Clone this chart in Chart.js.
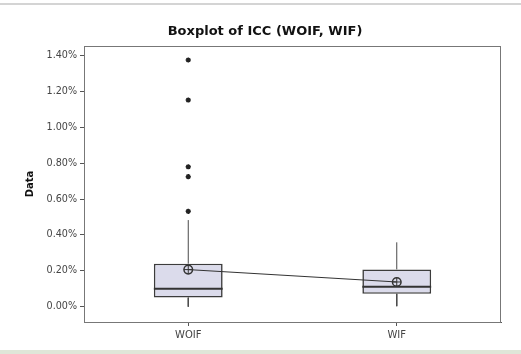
<!DOCTYPE html>
<html>
<head>
<meta charset="utf-8">
<script src="https://cdn.jsdelivr.net/npm/chart.js@4/dist/chart.umd.min.js"></script>
<style>
  html, body { margin: 0; padding: 0; background: #ffffff; }
  #wrap { width: 521px; height: 354px; position: relative; }
</style>
</head>
<body>
<div id="wrap"><canvas id="c" width="521" height="354"></canvas></div>
<script>
// Boxplot summary per group (values in percent)
const chartTitle   = 'Boxplot of ICC (WOIF, WIF)';
const categories   = ['WOIF', 'WIF'];
const whiskerLow   = [0.000, 0.003];
const q1           = [0.051, 0.072];
const medians      = [0.100, 0.111];
const q3           = [0.240, 0.208];
const whiskerHigh  = [0.483, 0.359];
const means        = [0.207, 0.138];
const outliersWOIF = [0.532, 0.725, 0.780, 1.152, 1.375];
const outliersWIF  = [];
const yTicks       = [0.0, 0.2, 0.4, 0.6, 0.8, 1.0, 1.2, 1.4];

const INK = '#333333';

// whisker segments: one line dataset per segment
const whiskerSets = [];
categories.forEach((cat, i) => {
  whiskerSets.push({
    type: 'line', order: 5,
    data: [{ x: cat, y: q3[i] }, { x: cat, y: whiskerHigh[i] }],
    borderColor: '#4a4a4a', borderWidth: 1, pointRadius: 0
  });
  whiskerSets.push({
    type: 'line', order: 5,
    data: [{ x: cat, y: q1[i] }, { x: cat, y: whiskerLow[i] }],
    borderColor: '#4a4a4a', borderWidth: 1, pointRadius: 0
  });
});

const outlierPoints = []
  .concat(outliersWOIF.map(v => ({ x: 'WOIF', y: v })))
  .concat(outliersWIF.map(v => ({ x: 'WIF', y: v })));

// page edges, title, median line across each box and frame around the plot area
const boxExtras = {
  id: 'boxExtras',
  beforeDraw(chart) {
    const { ctx, width, height } = chart;
    ctx.save();
    ctx.fillStyle = '#ffffff';
    ctx.fillRect(0, 0, width, height);
    ctx.strokeStyle = '#d4d4d4';
    ctx.lineWidth = 2;
    ctx.beginPath(); ctx.moveTo(0, 4); ctx.lineTo(width, 4); ctx.stroke();
    ctx.fillStyle = '#dfe6d8';
    ctx.fillRect(0, height - 4, width, 4);
    ctx.fillStyle = '#111111';
    ctx.font = 'bold 13px "DejaVu Sans"';
    ctx.textAlign = 'center';
    ctx.textBaseline = 'middle';
    ctx.fillText(chartTitle, 265, 32);
    ctx.restore();
  },
  afterDatasetsDraw(chart) {
    const { ctx, chartArea } = chart;
    const yScale = chart.scales.y;
    const meta = chart.getDatasetMeta(0);
    ctx.save();
    ctx.strokeStyle = INK;
    ctx.lineWidth = 2;
    meta.data.forEach((el, i) => {
      const y = yScale.getPixelForValue(medians[i]);
      ctx.beginPath();
      ctx.moveTo(el.x - el.width / 2, y);
      ctx.lineTo(el.x + el.width / 2, y);
      ctx.stroke();
    });
    ctx.strokeStyle = '#777777';
    ctx.lineWidth = 1;
    ctx.strokeRect(chartArea.left + 0.5, chartArea.top + 0.5,
                   chartArea.right - chartArea.left - 1, chartArea.bottom - chartArea.top);
    ctx.restore();
  }
};

new Chart(document.getElementById('c'), {
  type: 'bar',
  data: {
    labels: categories,
    datasets: [
      {
        type: 'bar', order: 10, grouped: false,
        data: categories.map((c, i) => [q1[i], q3[i]]),
        backgroundColor: '#dbdbeb',
        borderColor: '#3c3c3c', borderWidth: 1.6, borderSkipped: false,
        barPercentage: 0.33, categoryPercentage: 1.0
      },
      ...whiskerSets,
      {
        type: 'line', order: 1,
        data: outlierPoints,
        showLine: false,
        pointStyle: 'star', pointRadius: 2.6,
        pointBorderColor: '#222222', pointBorderWidth: 1.5
      },
      {
        type: 'line', order: 0,
        data: categories.map((c, i) => ({ x: c, y: means[i] })),
        borderColor: INK, borderWidth: 1,
        pointStyle: 'circle', pointRadius: 4.3,
        pointBorderColor: INK, pointBorderWidth: 1.5,
        pointBackgroundColor: 'rgba(0,0,0,0)'
      },
      {
        type: 'line', order: 0,
        data: categories.map((c, i) => ({ x: c, y: means[i] })),
        showLine: false,
        pointStyle: 'cross', pointRadius: 4.3,
        pointBorderColor: INK, pointBorderWidth: 1
      }
    ]
  },
  options: {
    responsive: false,
    animation: false,
    events: [],
    layout: { padding: { left: 0, right: 20, top: 46, bottom: 0 } },
    plugins: {
      legend: { display: false },
      tooltip: { enabled: false },
      title: { display: false }
    },
    scales: {
      x: {
        type: 'category',
        offset: true,
        grid: { display: true, drawOnChartArea: false, drawTicks: true, tickLength: 4, color: '#555555', offset: false },
        border: { display: true, color: '#555555' },
        ticks: { color: '#444444', font: { family: 'DejaVu Sans', size: 10 }, padding: 3 },
        afterFit(scale) { scale.height = 32; }
      },
      y: {
        type: 'linear',
        min: -0.085,
        max: 1.453,
        afterBuildTicks(scale) { scale.ticks = yTicks.map(v => ({ value: v })); },
        grid: { display: true, drawOnChartArea: false, drawTicks: true, tickLength: 4, color: '#555555' },
        border: { display: true, color: '#777777' },
        ticks: {
          color: '#444444', font: { family: 'DejaVu Sans', size: 9.6 }, padding: 3,
          callback: v => v.toFixed(2) + '%'
        },
        title: {
          display: true, text: 'Data', color: '#111111',
          font: { family: 'DejaVu Sans', size: 10, weight: 'bold', lineHeight: 1.2 },
          padding: { top: 24, bottom: 0 }
        },
        afterFit(scale) { scale.width = 84; }
      }
    }
  },
  plugins: [boxExtras]
});
</script>
</body>
</html>
